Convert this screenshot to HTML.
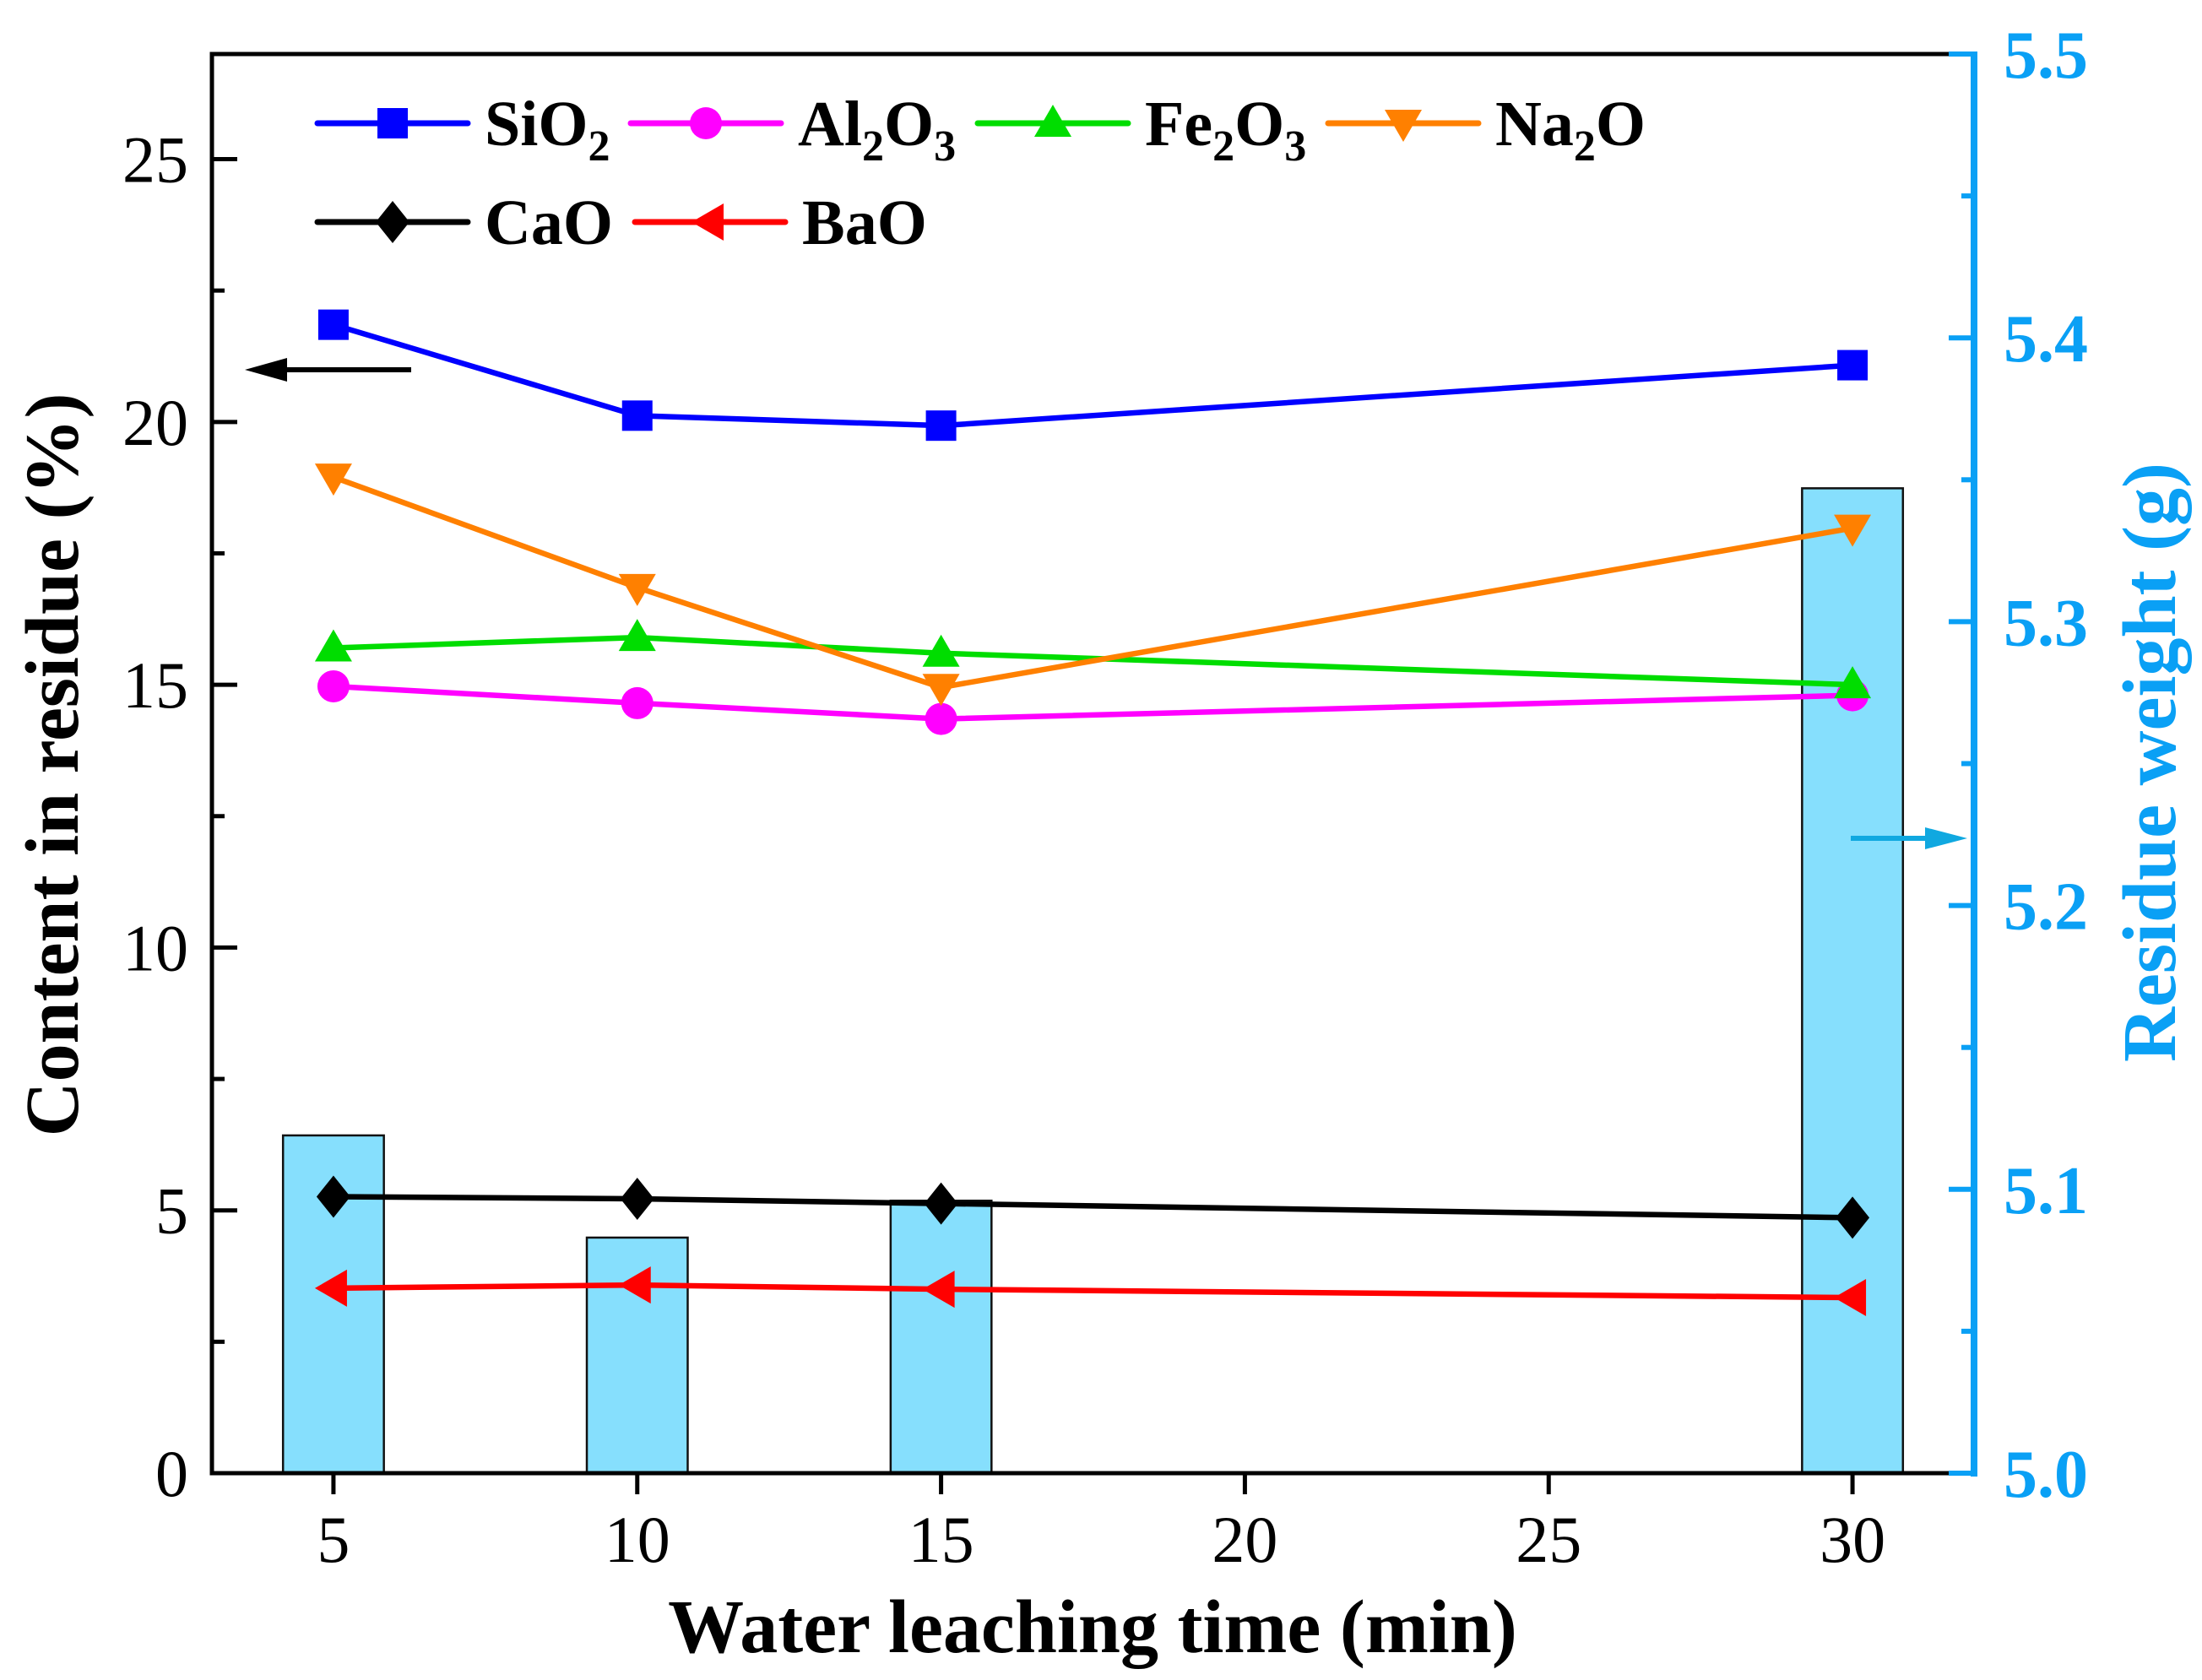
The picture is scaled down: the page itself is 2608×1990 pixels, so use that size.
<!DOCTYPE html>
<html><head><meta charset="utf-8"><style>
html,body{margin:0;padding:0;background:#fff;}
svg{display:block;}
</style></head><body>
<svg id="chart" width="2608" height="1990" viewBox="0 0 2608 1990" xmlns="http://www.w3.org/2000/svg" font-family="'Liberation Serif', serif">
<g id="bars"></g>
<g id="series"></g>
<g id="axes"></g>
<g id="legend"></g>
</svg>
<script>
const categories = [5, 10, 15, 30];
const sio2 = [21.85, 20.12, 19.93, 21.08];
const al2o3 = [14.97, 14.65, 14.35, 14.8];
const fe2o3 = [15.7, 15.9, 15.6, 15.0];
const na2o = [18.95, 16.85, 14.95, 17.98];
const cao = [5.26, 5.22, 5.13, 4.86];
const bao = [3.52, 3.58, 3.5, 3.34];
const residueWeight = [5.119, 5.083, 5.096, 5.347];
const xTicks = [5, 10, 15, 20, 25, 30];
const yTicks = [0, 5, 10, 15, 20, 25];
const y2Ticks = [5.0, 5.1, 5.2, 5.3, 5.4, 5.5];

const NS = 'http://www.w3.org/2000/svg';
const L = 251, R = 2338, T = 64, B = 1745;
const xMin = 3, xMax = 32, yMax = 27, y2Min = 5.0, y2Max = 5.5;
const X = v => L + (v - xMin) / (xMax - xMin) * (R - L);
const Y = v => B - v / yMax * (B - T);
const Y2 = v => B - (v - y2Min) / (y2Max - y2Min) * (B - T);
const BLUE = '#0AA0F5';

function mk(tag, attrs, parent, text) {
  const e = document.createElementNS(NS, tag);
  for (const k in attrs) e.setAttribute(k, attrs[k]);
  if (text !== undefined) e.textContent = text;
  parent.appendChild(e);
  return e;
}

const gBars = document.getElementById('bars');
categories.forEach((c, i) => {
  const x0 = X(c - 0.83), x1 = X(c + 0.83);
  const r = mk('rect', {x: x0, y: Y2(residueWeight[i]), width: x1 - x0, height: B - Y2(residueWeight[i]), fill: '#86DFFD', stroke: '#111', 'stroke-width': 2.5}, gBars);
  
  
});

function marker(type, cx, cy, color, parent) {
  const s = 18;
  let e;
  if (type === 'square') e = mk('rect', {x: cx - s, y: cy - s, width: 2 * s, height: 2 * s, fill: color}, parent);
  else if (type === 'circle') e = mk('circle', {cx: cx, cy: cy, r: s + 1, fill: color}, parent);
  else if (type === 'up') e = mk('polygon', {points: `${cx},${cy - 22} ${cx + 22},${cy + 16} ${cx - 22},${cy + 16}`, fill: color}, parent);
  else if (type === 'down') e = mk('polygon', {points: `${cx},${cy + 22} ${cx + 22},${cy - 16} ${cx - 22},${cy - 16}`, fill: color}, parent);
  else if (type === 'diamond') e = mk('polygon', {points: `${cx},${cy - 25} ${cx + 20},${cy} ${cx},${cy + 25} ${cx - 20},${cy}`, fill: color}, parent);
  else if (type === 'left') e = mk('polygon', {points: `${cx - 22},${cy} ${cx + 16},${cy - 22} ${cx + 16},${cy + 22}`, fill: color}, parent);
  return e;
}

const seriesDefs = [
  ['sio2', 'SiO', '2', '', sio2, '#0000FF', 'square'],
  ['al2o3', 'Al', '2', 'O3', al2o3, '#FF00FF', 'circle'],
  ['fe2o3', 'Fe', '2', 'O3', fe2o3, '#00DD00', 'up'],
  ['na2o', 'Na', '2', 'O', na2o, '#FF8000', 'down'],
  ['cao', 'CaO', '', '', cao, '#000000', 'diamond'],
  ['bao', 'BaO', '', '', bao, '#FF0000', 'left']
];
const gS = document.getElementById('series');
seriesDefs.forEach(d => {
  const g = mk('g', {}, gS);
  
  
  const pts = categories.map((c, i) => X(c) + ',' + Y(d[4][i])).join(' ');
  mk('polyline', {points: pts, fill: 'none', stroke: d[5], 'stroke-width': 6.5}, g);
  categories.forEach((c, i) => {
    const m = marker(d[6], X(c), Y(d[4][i]), d[5], g);
    
    
  });
});

const gA = document.getElementById('axes');
mk('line', {x1: L, y1: T, x2: R, y2: T, stroke: '#000', 'stroke-width': 5}, gA);
mk('line', {x1: L, y1: T - 2.5, x2: L, y2: B + 2.5, stroke: '#000', 'stroke-width': 5}, gA);
mk('line', {x1: L, y1: B, x2: R, y2: B, stroke: '#000', 'stroke-width': 5}, gA);
mk('line', {x1: R, y1: T - 3, x2: R, y2: B + 4, stroke: BLUE, 'stroke-width': 8}, gA);
yTicks.forEach(v => {
  mk('line', {x1: L, y1: Y(v), x2: L + 30, y2: Y(v), stroke: '#000', 'stroke-width': 5}, gA);
  const t = mk('text', {x: L - 28, y: Y(v) + 27, 'text-anchor': 'end', 'font-size': 78, fill: '#000'}, gA, String(v));
  
  
});
[2.5, 7.5, 12.5, 17.5, 22.5].forEach(v => mk('line', {x1: L, y1: Y(v), x2: L + 15, y2: Y(v), stroke: '#000', 'stroke-width': 5}, gA));
y2Ticks.forEach(v => {
  mk('line', {x1: R - 30, y1: Y2(v), x2: R, y2: Y2(v), stroke: BLUE, 'stroke-width': 6}, gA);
  const t = mk('text', {x: R + 35, y: Y2(v) + 28, 'font-size': 80, 'font-weight': 'bold', fill: BLUE}, gA, v.toFixed(1));
  
  
});
[5.05, 5.15, 5.25, 5.35, 5.45].forEach(v => mk('line', {x1: R - 15, y1: Y2(v), x2: R, y2: Y2(v), stroke: BLUE, 'stroke-width': 6}, gA));
xTicks.forEach(v => {
  mk('line', {x1: X(v), y1: B, x2: X(v), y2: B + 25, stroke: '#000', 'stroke-width': 5}, gA);
  const t = mk('text', {x: X(v), y: B + 105, 'text-anchor': 'middle', 'font-size': 78, fill: '#000'}, gA, String(v));
  
  
});
const xt = mk('text', {x: 1294, y: 1957, 'text-anchor': 'middle', 'font-size': 90, 'font-weight': 'bold', fill: '#000'}, gA, 'Water leaching time (min)');


const yt = mk('text', {x: 0, y: 0, 'text-anchor': 'middle', 'font-size': 90, 'font-weight': 'bold', fill: '#000', transform: 'translate(92,906) rotate(-90)'}, gA, 'Content in residue (%)');


const y2t = mk('text', {x: 0, y: 0, 'text-anchor': 'middle', 'font-size': 90, 'font-weight': 'bold', fill: BLUE, transform: 'translate(2576,903) rotate(-90)'}, gA, 'Residue weight (g)');


const a1 = mk('g', {}, gA);


mk('line', {x1: 487, y1: 438, x2: 330, y2: 438, stroke: '#000', 'stroke-width': 6}, a1);
mk('polygon', {points: '290,438 340,424 340,452', fill: '#000'}, a1);
const a2 = mk('g', {}, gA);


mk('line', {x1: 2192, y1: 993, x2: 2290, y2: 993, stroke: '#10A8E0', 'stroke-width': 6}, a2);
mk('polygon', {points: '2330,993 2280,980 2280,1006', fill: '#10A8E0'}, a2);

const gL = document.getElementById('legend');
const legPos = [[376, 146], [747, 146], [1158, 146], [1573, 146], [376, 263], [752, 263]];
seriesDefs.forEach((d, i) => {
  const [lx, ly] = legPos[i];
  const g = mk('g', {}, gL);
  
  
  mk('line', {x1: lx, y1: ly, x2: lx + 178, y2: ly, stroke: d[5], 'stroke-width': 7, 'stroke-linecap': 'round'}, g);
  marker(d[6], lx + 89, ly, d[5], g);
  const t = mk('text', {x: lx + 198, y: ly + 26, 'font-size': 76, 'font-weight': 'bold', fill: '#000'}, g);
  t.appendChild(document.createTextNode(d[1]));
  if (d[2]) mk('tspan', {'font-size': 52, dy: 18}, t, d[2]);
  if (d[3] === 'O3') { mk('tspan', {dy: -18}, t, 'O'); mk('tspan', {'font-size': 52, dy: 18}, t, '3'); }
  else if (d[3] === 'O') { mk('tspan', {dy: -18}, t, 'O'); }
});
</script>
</body></html>
